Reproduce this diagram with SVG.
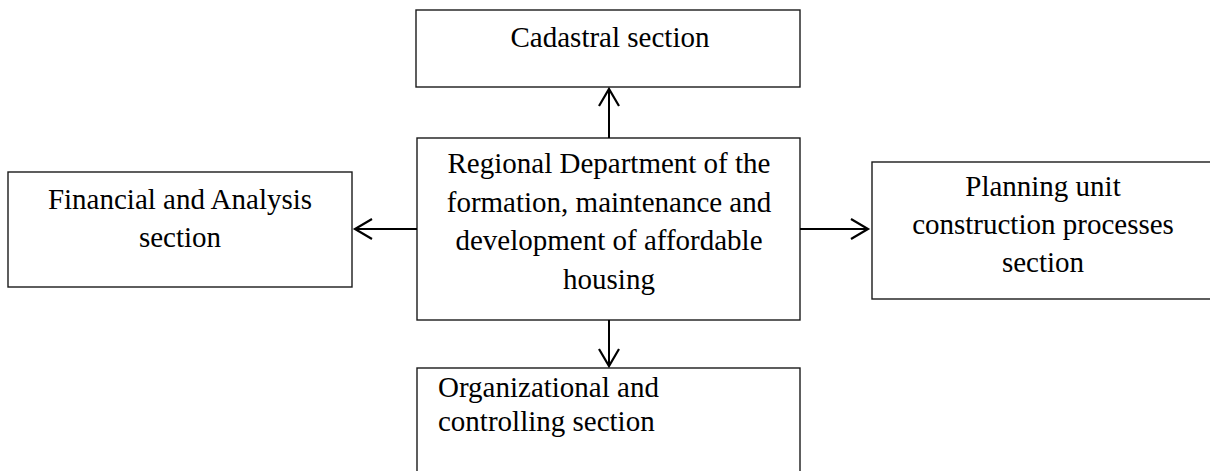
<svg xmlns="http://www.w3.org/2000/svg" width="1210" height="471" viewBox="0 0 1210 471">
  <style>
    .box { fill: #ffffff; stroke: #1a1a1a; stroke-width: 1.4; }
    .t { font-family: "Liberation Serif", "Times New Roman", serif; font-size: 29px; fill: #000000; }
    .c { text-anchor: middle; }
    .conn { stroke: #000000; stroke-width: 2; fill: none; }
  </style>
  <defs>
    <marker id="arr" markerUnits="userSpaceOnUse" viewBox="-20 -12 22 24" refX="0" refY="0" markerWidth="22" markerHeight="24" orient="auto" overflow="visible">
      <path d="M -17 -10 L 0 0 L -17 10" fill="none" stroke="#000000" stroke-width="2.2"/>
    </marker>
  </defs>
  <rect width="1210" height="471" fill="#ffffff"/>

  <g id="cadastral">
    <rect class="box" x="416" y="10" width="384" height="77"/>
    <text class="t c" x="610" y="47">Cadastral section</text>
  </g>

  <g id="regional">
    <rect class="box" x="417" y="138" width="383" height="182"/>
    <text class="t c" x="609" y="173">Regional Department of the</text>
    <text class="t c" x="609" y="212">formation, maintenance and</text>
    <text class="t c" x="609" y="250">development of affordable</text>
    <text class="t c" x="609" y="289">housing</text>
  </g>

  <g id="financial">
    <rect class="box" x="8" y="172" width="344" height="115"/>
    <text class="t c" x="180" y="209">Financial and Analysis</text>
    <text class="t c" x="180" y="247">section</text>
  </g>

  <g id="planning">
    <rect class="box" x="872" y="162" width="345" height="137"/>
    <text class="t c" x="1043" y="196">Planning unit</text>
    <text class="t c" x="1043" y="234">construction processes</text>
    <text class="t c" x="1043" y="272">section</text>
  </g>

  <g id="organizational">
    <rect class="box" x="417" y="368" width="383" height="120"/>
    <text class="t" x="438" y="397">Organizational and</text>
    <text class="t" x="438" y="431">controlling section</text>
  </g>

  <g id="connectors">
    <path class="conn" d="M609 138 L609 89" marker-end="url(#arr)"/>
    <path class="conn" d="M417 229 L355 229" marker-end="url(#arr)"/>
    <path class="conn" d="M800 229 L868 229" marker-end="url(#arr)"/>
    <path class="conn" d="M609 320 L609 366" marker-end="url(#arr)"/>
  </g>
</svg>
